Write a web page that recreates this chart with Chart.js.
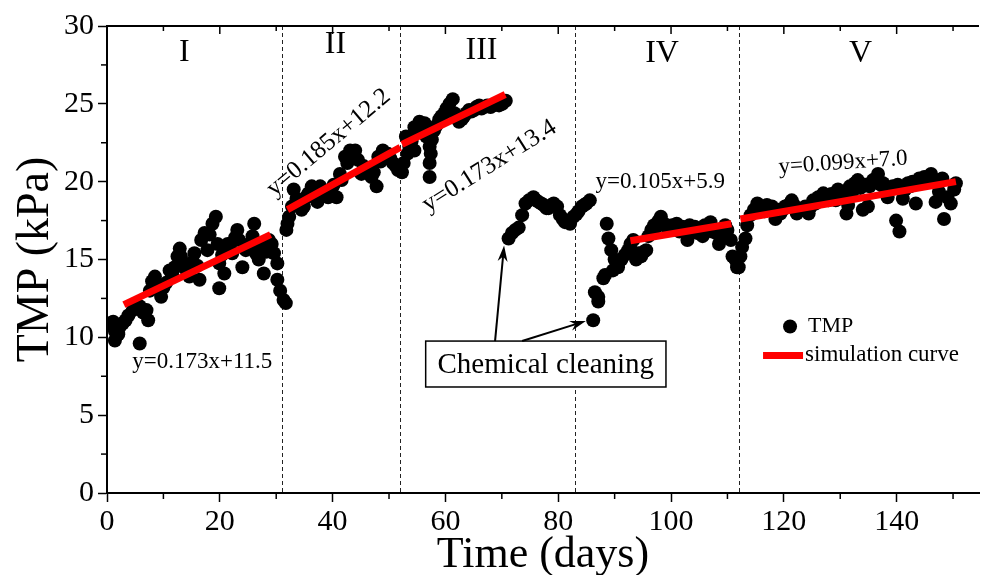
<!DOCTYPE html>
<html lang="en">
<head>
<meta charset="UTF-8" />
<title>TMP vs time</title>
<script src="https://cdn.jsdelivr.net/npm/chart.js"></script>
<style>
  body { margin: 0; background: #fff; }
  #wrap { width: 986px; height: 575px; }
</style>
</head>
<body>
<div id="wrap"><canvas id="tmpChart" width="986" height="575"></canvas></div>
<script>
// TMP readings, [day, kPa], one list per operating phase
const phase1 = [[0.6,10.9],[1.1,11.0],[1.4,10.4],[1.4,9.8],[2.0,10.2],[2.3,10.7],[2.8,10.9],[3.3,11.1],[3.8,11.4],[4.6,11.75],[5.2,11.9],[5.8,12.0],[5.8,9.6],[6.4,11.6],[7.0,11.75],[7.3,11.1],[7.6,13.0],[8.0,13.6],[8.5,13.9],[9.0,13.25],[9.6,12.6],[10.0,13.2],[10.5,13.5],[11.1,14.3],[11.6,14.0],[12.0,14.5],[12.5,15.2],[12.9,15.7],[13.1,15.2],[13.7,14.5],[14.2,14.2],[14.6,13.9],[15.0,14.8],[15.5,15.4],[16.0,14.6],[16.4,13.7],[16.7,16.25],[17.3,16.7],[17.8,15.6],[18.2,16.6],[18.7,17.3],[19.3,17.75],[19.6,16.0],[19.9,14.75],[19.9,13.15],[20.4,15.3],[20.8,14.1],[21.4,16.0],[21.8,15.8],[22.2,15.4],[22.7,16.4],[23.1,16.9],[23.4,16.25],[24.0,14.5],[24.6,15.6],[25.2,16.0],[25.8,16.5],[26.1,17.3],[26.4,15.4],[26.9,15.0],[27.3,15.8],[27.8,14.1],[28.2,15.5],[28.7,16.25],[29.2,16.0],[29.6,15.4],[30.2,14.75],[30.2,13.7],[30.7,13.0],[31.3,12.4],[31.7,12.2]];
const phase2 = [[31.8,16.9],[32.0,17.3],[32.3,17.75],[32.8,18.4],[33.1,19.5],[33.6,18.9],[34.0,18.8],[34.5,18.2],[34.9,18.4],[35.3,19.0],[35.7,19.25],[36.3,19.7],[36.9,19.0],[37.3,18.7],[37.8,19.7],[38.2,19.4],[38.7,19.25],[39.2,19.0],[39.8,19.5],[40.2,19.8],[40.7,19.0],[41.3,20.5],[41.6,20.1],[42.2,21.6],[42.6,21.2],[43.1,22.0],[43.5,21.5],[44.0,22.0],[44.5,21.4],[45.1,20.5],[45.5,21.0],[46.0,20.75],[46.5,20.9],[46.9,20.3],[47.3,20.6],[47.8,19.7],[48.1,21.6],[48.5,21.3],[48.9,22.0],[49.3,21.5],[49.8,21.8],[50.2,21.5],[50.7,21.2],[51.2,21.0],[51.6,20.75]];
const phase3 = [[52.3,20.6],[52.6,21.2],[53.0,22.9],[53.3,21.8],[53.6,22.25],[54.0,22.6],[54.5,22.0],[54.5,23.5],[55.0,23.2],[55.4,23.85],[55.9,23.5],[56.3,23.75],[56.6,22.9],[57.2,20.3],[57.2,21.2],[57.4,21.8],[57.2,22.25],[57.6,22.7],[58.0,23.3],[58.4,23.6],[58.9,24.0],[59.3,24.2],[59.8,24.4],[60.2,24.7],[60.7,25.0],[61.3,25.3],[61.6,24.4],[62.0,24.1],[62.4,23.85],[62.9,24.0],[63.3,24.2],[63.7,24.4],[64.2,24.6],[64.6,24.5],[65.1,24.6],[65.5,24.8],[66.0,24.9],[66.4,24.7],[66.8,24.8],[67.4,24.9],[68.0,24.8],[68.5,24.9],[68.9,25.0],[69.5,24.9],[70.1,25.0],[70.7,25.2]];
const afterCleaning = [[71.2,16.35],[71.8,16.7],[72.4,16.9],[73.0,17.05],[73.6,17.85],[74.2,18.6],[74.8,18.8],[75.6,19.0],[76.1,18.8],[76.5,18.7],[77.0,18.6],[77.4,18.5],[77.9,18.3],[78.3,18.3],[78.8,18.5],[79.2,18.6],[79.8,18.4],[80.3,17.85],[80.8,17.6],[81.2,17.4],[81.7,17.4],[82.1,17.3],[82.7,17.75],[83.2,17.9],[83.6,18.1],[84.2,18.4],[84.6,18.5],[85.0,18.6],[85.6,18.8]];
const phase4 = [[86.2,11.1],[86.5,12.9],[87.1,12.6],[87.1,12.3],[88.0,13.8],[88.3,14.0],[88.6,17.3],[88.9,16.35],[89.4,15.6],[89.7,14.3],[90.0,15.0],[90.6,14.5],[91.2,15.0],[91.8,15.3],[92.4,15.6],[92.8,16.0],[93.3,16.25],[93.8,15.0],[94.2,15.4],[94.7,15.2],[95.2,15.5],[95.6,15.6],[96.0,16.5],[96.5,16.9],[97.0,17.2],[97.4,17.1],[97.8,17.5],[98.2,17.75],[98.8,17.3],[99.2,17.1],[99.7,16.9],[100.2,17.2],[100.6,17.1],[101.0,17.3],[101.5,16.8],[102.0,17.1],[102.3,17.0],[102.9,16.25],[103.3,17.2],[103.8,16.9],[104.2,17.1],[104.7,16.7],[105.2,17.0],[105.6,16.5],[106.0,17.2],[106.5,17.1],[107.0,17.4],[107.3,16.8],[108.0,16.7],[108.5,16.0],[109.1,16.5],[109.6,17.2],[110.0,16.9],[110.6,16.25],[110.9,15.2],[111.4,15.0],[111.7,14.5]];
const phase5 = [[112.0,14.5],[112.3,15.2],[112.6,15.8],[113.2,16.35],[113.5,17.2],[114.1,17.85],[114.7,18.2],[115.3,18.6],[115.7,18.3],[116.1,18.4],[116.6,18.1],[117.0,18.5],[117.5,18.2],[117.9,18.4],[118.5,17.6],[119.0,18.2],[119.4,17.95],[119.8,18.2],[120.2,18.4],[120.8,18.5],[121.4,18.8],[121.8,18.5],[122.3,17.95],[122.8,18.2],[123.2,18.2],[123.8,18.4],[124.4,17.95],[124.8,18.4],[125.2,18.8],[125.6,18.6],[126.1,19.0],[126.5,18.8],[127.0,19.25],[127.5,18.9],[127.9,18.8],[128.4,19.2],[128.8,19.0],[129.2,18.8],[129.6,19.5],[130.1,19.1],[130.5,19.25],[131.1,17.95],[131.4,18.5],[131.7,19.7],[132.2,19.4],[132.6,19.9],[133.1,20.1],[133.6,19.6],[134.0,18.2],[134.4,19.8],[134.9,18.4],[135.2,19.7],[135.8,20.1],[136.2,20.0],[136.7,20.5],[137.2,19.8],[137.6,19.9],[138.0,19.5],[138.4,19.0],[138.9,19.6],[139.3,19.7],[139.9,17.5],[140.2,19.8],[140.5,16.8],[141.1,18.9],[141.5,19.5],[142.0,19.9],[142.4,19.7],[142.8,20.0],[143.4,18.6],[144.0,20.2],[144.4,20.0],[144.9,20.3],[145.5,20.1],[146.1,20.5],[146.5,20.1],[146.9,18.7],[147.5,19.35],[148.1,20.2],[148.4,17.6],[149.0,19.0],[149.6,18.6],[150.2,19.5],[150.5,19.9]];

// fitted lines (simulation curve), end points [day, kPa]
const sim1 = [[3, 12.1], [29, 16.6]];
const sim2 = [[32, 18.2], [52, 22.2]];
const sim3 = [[52.3, 22.4], [70.6, 25.6]];
const sim4 = [[92.8, 16.2], [110.7, 17.3]];
const sim5 = [[112.3, 17.6], [150.5, 20.0]];

const phaseBreaks = [31, 52, 83, 112];
const phaseNames = ['I', 'II', 'III', 'IV', 'V'];
const equations = ['y=0.173x+11.5', 'y=0.185x+12.2', 'y=0.173x+13.4', 'y=0.105x+5.9', 'y=0.099x+7.0'];
const cleaningDays = [70.4, 84.9];
const cleaningTmp = [15.9, 11.05];
const xTicks = [0, 20, 40, 60, 80, 100, 120, 140];
const yTicks = [0, 5, 10, 15, 20, 25, 30];

// label placement (data units) and text angles
const phaseLabelAt = [[13.7, 28.3], [40.5, 28.8], [66.4, 28.4], [98.4, 28.2], [133.6, 28.2]];
const eqLabelAt = [[16.9, 8.4, 0], [39.3, 22.5, -40], [67.8, 21.0, -32], [98.1, 20.0, 0], [130.5, 21.2, -4]];
const boxAt = { x0: 56.5, x1: 99.1, y0: 9.76, y1: 6.81 };
const legendAt = [121.1, 10.7];

const FONT = '"Liberation Serif", "Times New Roman", serif';
const toXY = arr => arr.map(([x, y]) => ({ x, y }));
const tmpPoints = [].concat(phase1, phase2, phase3, afterCleaning, phase4, phase5);

function arrow(ctx, x0, y0, x1, y1) {
  const ang = Math.atan2(y1 - y0, x1 - x0);
  const len = 16, hw = 5;
  ctx.beginPath();
  ctx.moveTo(x0, y0);
  ctx.lineTo(x1 - Math.cos(ang) * 8, y1 - Math.sin(ang) * 8);
  ctx.stroke();
  ctx.beginPath();
  ctx.moveTo(x1, y1);
  ctx.lineTo(x1 - Math.cos(ang) * len - Math.sin(ang) * hw, y1 - Math.sin(ang) * len + Math.cos(ang) * hw);
  ctx.lineTo(x1 - Math.cos(ang) * (len - 5), y1 - Math.sin(ang) * (len - 5));
  ctx.lineTo(x1 - Math.cos(ang) * len + Math.sin(ang) * hw, y1 - Math.sin(ang) * len - Math.cos(ang) * hw);
  ctx.closePath();
  ctx.fill();
}

const decor = {
  id: 'decor',
  beforeDatasetsDraw(chart) {
    const { ctx, chartArea: a, scales: { x } } = chart;
    ctx.save();
    ctx.strokeStyle = '#222';
    ctx.lineWidth = 1;
    ctx.setLineDash([4, 3]);
    phaseBreaks.forEach(d => {
      const px = Math.round(x.getPixelForValue(d)) + 0.5;
      ctx.beginPath();
      ctx.moveTo(px, a.top);
      ctx.lineTo(px, a.bottom);
      ctx.stroke();
    });
    ctx.restore();
  },
  afterDraw(chart) {
    const { ctx, chartArea: a, scales: { x, y } } = chart;
    const X = v => x.getPixelForValue(v), Y = v => y.getPixelForValue(v);
    ctx.save();
    ctx.strokeStyle = '#000';
    ctx.fillStyle = '#000';

    // top frame and minor ticks
    ctx.lineWidth = 2;
    ctx.beginPath(); ctx.moveTo(a.left, a.top); ctx.lineTo(a.right, a.top); ctx.stroke();
    ctx.lineWidth = 1.5;
    for (let v = 10; v < 155; v += 20) {
      ctx.beginPath(); ctx.moveTo(X(v), a.bottom); ctx.lineTo(X(v), a.bottom + 6); ctx.stroke();
    }
    for (let v = 10; v < 155; v += 10) {
      const len = v % 20 === 0 ? 8 : 5;
      ctx.beginPath(); ctx.moveTo(X(v), a.top); ctx.lineTo(X(v), a.top + len); ctx.stroke();
    }
    for (let v = 2.5; v < 30; v += 5) {
      ctx.beginPath(); ctx.moveTo(a.left, Y(v)); ctx.lineTo(a.left - 6, Y(v)); ctx.stroke();
    }

    // phase numerals
    ctx.textAlign = 'center';
    ctx.textBaseline = 'middle';
    ctx.font = '32px ' + FONT;
    phaseNames.forEach((n, i) => ctx.fillText(n, X(phaseLabelAt[i][0]), Y(phaseLabelAt[i][1])));

    // fit equations
    equations.forEach((t, i) => {
      const [d, k, ang] = eqLabelAt[i];
      ctx.save();
      ctx.translate(X(d), Y(k));
      ctx.rotate(ang * Math.PI / 180);
      ctx.font = (ang < -10 ? 25 : 23) + 'px ' + FONT;
      ctx.fillText(t, 0, 0);
      ctx.restore();
    });

    // chemical cleaning box and arrows
    const bx0 = X(boxAt.x0), bx1 = X(boxAt.x1), by0 = Y(boxAt.y0), by1 = Y(boxAt.y1);
    ctx.fillStyle = '#fff';
    ctx.fillRect(bx0, by0, bx1 - bx0, by1 - by0);
    ctx.lineWidth = 1.5;
    ctx.strokeRect(bx0, by0, bx1 - bx0, by1 - by0);
    ctx.fillStyle = '#000';
    ctx.font = '29px ' + FONT;
    ctx.fillText('Chemical cleaning', (bx0 + bx1) / 2, (by0 + by1) / 2 + 1);
    ctx.lineWidth = 2;
    arrow(ctx, X(68.8), by0, X(cleaningDays[0]), Y(cleaningTmp[0]));
    arrow(ctx, X(73.6), by0, X(cleaningDays[1]), Y(cleaningTmp[1]));

    // legend
    const lx = X(legendAt[0]), ly = Y(legendAt[1]);
    ctx.beginPath(); ctx.arc(lx, ly, 7, 0, Math.PI * 2); ctx.fill();
    ctx.textAlign = 'left';
    ctx.font = '22px ' + FONT;
    ctx.fillText('TMP', lx + 18, ly);
    ctx.strokeStyle = '#ff0000';
    ctx.lineWidth = 7;
    ctx.beginPath(); ctx.moveTo(lx - 27, ly + 29); ctx.lineTo(lx + 13, ly + 29); ctx.stroke();
    ctx.font = '23px ' + FONT;
    ctx.fillText('simulation curve', lx + 15, ly + 29);
    ctx.restore();
  }
};

const simLines = [sim1, sim2, sim3, sim4, sim5];

new Chart(document.getElementById('tmpChart'), {
  type: 'scatter',
  data: {
    datasets: [
      ...simLines.map(seg => ({
        type: 'line', label: 'simulation curve', data: toXY(seg), showLine: true,
        borderColor: '#ff0000', borderWidth: 7, pointRadius: 0, borderCapStyle: 'butt', order: 0
      })),
      { label: 'TMP', data: toXY(tmpPoints), backgroundColor: '#000', borderWidth: 0, pointRadius: 7, order: 1 }
    ]
  },
  options: {
    responsive: false,
    animation: false,
    layout: { padding: { top: 26, right: 0, left: 0, bottom: 0 } },
    plugins: { legend: { display: false }, tooltip: { enabled: false } },
    scales: {
      x: {
        type: 'linear', min: 0, max: 154.6,
        afterBuildTicks: s => { s.ticks = xTicks.map(v => ({ value: v })); },
        afterFit: s => { s.height = 82; },
        grid: { drawOnChartArea: false, tickLength: 9, tickColor: '#000', tickWidth: 1.5 },
        border: { color: '#000', width: 2 },
        ticks: { color: '#000', font: { family: FONT, size: 30 }, padding: 2, maxRotation: 0 },
        title: { display: true, text: 'Time (days)', color: '#000', font: { family: FONT, size: 44, lineHeight: 0.9 }, padding: { top: 0, bottom: 0 } }
      },
      y: {
        min: 0, max: 30,
        afterBuildTicks: s => { s.ticks = yTicks.map(v => ({ value: v })); },
        afterFit: s => { s.width = 107; },
        grid: { drawOnChartArea: false, tickLength: 9, tickColor: '#000', tickWidth: 1.5 },
        border: { color: '#000', width: 2 },
        ticks: { color: '#000', font: { family: FONT, size: 30 }, padding: 4 },
        title: { display: true, text: 'TMP (kPa)', color: '#000', font: { family: FONT, size: 46 }, padding: { top: 8, bottom: 4 } }
      }
    }
  },
  plugins: [decor]
});
</script>
</body>
</html>
